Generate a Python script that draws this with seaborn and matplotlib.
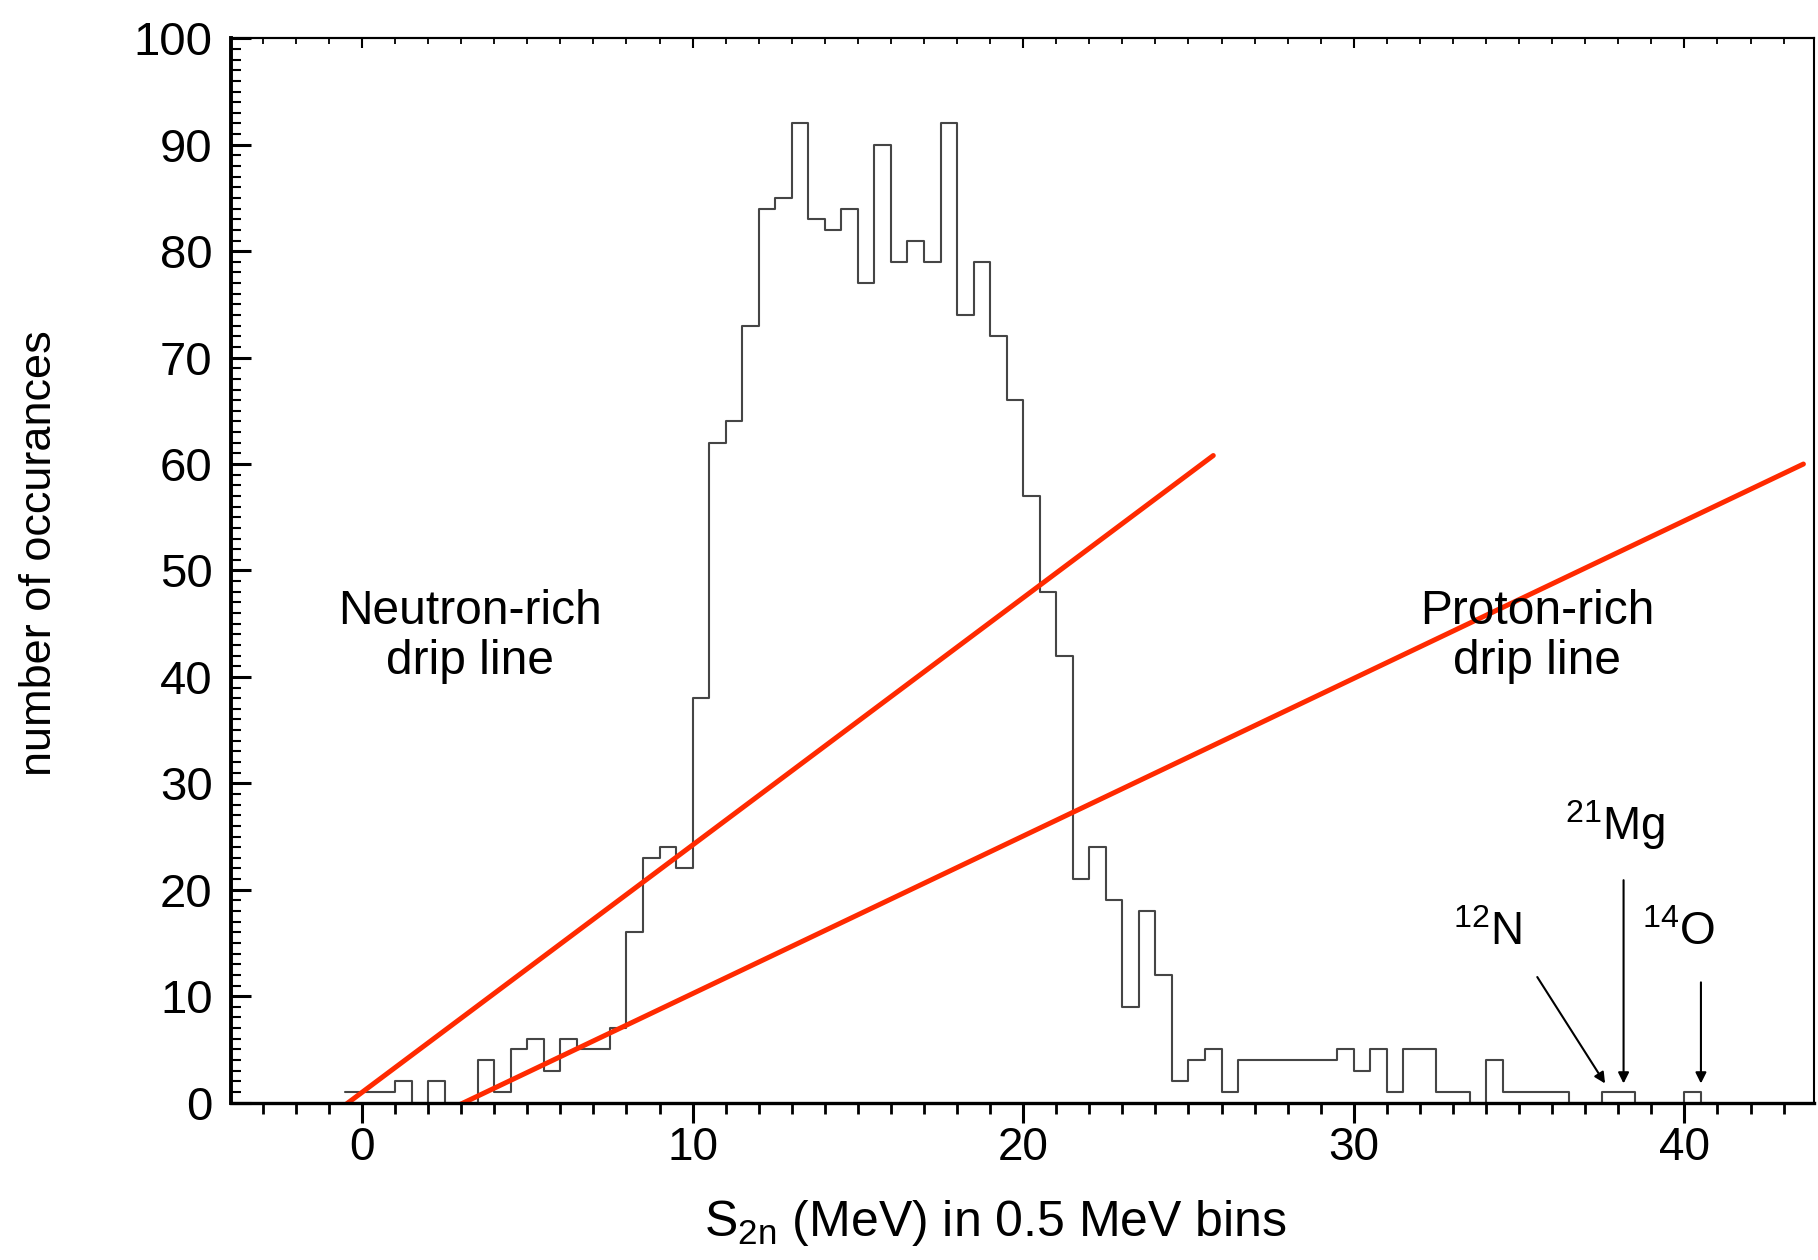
import numpy as np
import pandas as pd
import matplotlib
matplotlib.use("Agg")
import matplotlib.pyplot as plt
import seaborn as sns
from matplotlib.ticker import MultipleLocator, FixedLocator

# ---------------- data ----------------
bin_start = -0.5   # MeV, lower edge of first bin
bin_width = 0.5    # MeV
counts = [1, 1, 1, 2, 0, 2, 0, 0,          # -0.5 .. 3.0
          4, 1, 5, 6, 3, 6, 5, 5,          # 3.5 .. 7.0
          7, 16, 23, 24, 22, 38, 62, 64,   # 7.5 .. 11.0
          73, 84, 85, 92, 83, 82, 84, 77,  # 11.5 .. 15.0
          90, 79, 81, 79, 92, 74, 79, 72,  # 15.5 .. 19.0
          66, 57, 48, 42, 21, 24, 19, 9,   # 19.5 .. 23.0
          18, 12, 2, 4, 5, 1, 4, 4,        # 23.5 .. 27.0
          4, 4, 4, 4, 5, 3, 5, 1,          # 27.5 .. 31.0
          5, 5, 1, 1, 0, 4, 1, 1,          # 31.5 .. 35.0
          1, 1, 0, 0, 1, 1, 0, 0,          # 35.5 .. 39.0
          0, 1, 0]                         # 39.5 .. 40.5

neutron_line_x = [-0.5, 25.75]
neutron_line_y = [-0.2, 60.8]
proton_line_x = [2.95, 43.6]
proton_line_y = [-0.2, 60.0]

x_ticks = [0, 10, 20, 30, 40]
y_ticks = [0, 10, 20, 30, 40, 50, 60, 70, 80, 90, 100]

label_texts = ["Neutron-rich\ndrip line", "Proton-rich\ndrip line"]
label_x = [3.26, 35.54]
label_y = [43.8, 43.8]

nuclide_names = [r"$\mathregular{^{12}N}$", r"$\mathregular{^{21}Mg}$", r"$\mathregular{^{14}O}$"]
nuclide_text_x = [34.04, 37.89, 39.83]
nuclide_text_y = [14.8, 24.7, 14.8]
arrow_tail_x = [35.55, 38.16, 40.5]
arrow_tail_y = [11.8, 20.9, 11.3]
arrow_head_x = [37.6, 38.16, 40.5]
arrow_head_y = [1.8, 1.8, 1.8]

# ---------------- style ----------------
sns.set_theme(style="white")
plt.rcParams["font.family"] = ["Liberation Sans", "DejaVu Sans"]
plt.rcParams["mathtext.fontset"] = "custom"
plt.rcParams["mathtext.rm"] = "Liberation Sans"
plt.rcParams["mathtext.it"] = "Liberation Sans"
plt.rcParams["axes.edgecolor"] = "black"
plt.rcParams["xtick.color"] = "black"
plt.rcParams["ytick.color"] = "black"
plt.rcParams["text.color"] = "black"
plt.rcParams["axes.labelcolor"] = "black"

fig, ax = plt.subplots(figsize=(18.18, 12.6), dpi=100)
fig.subplots_adjust(left=0.1269, right=0.9978, top=0.9696, bottom=0.1249)

n = len(counts)
centers = bin_start + bin_width * (np.arange(n) + 0.5)
df = pd.DataFrame({"S2n": centers, "count": counts})
sns.histplot(data=df, x="S2n", weights="count", binwidth=bin_width,
             binrange=(bin_start, bin_start + n * bin_width), element="step",
             fill=False, color="#454545", linewidth=1.5, ax=ax)

red = "#ff2a00"
sns.lineplot(x=neutron_line_x, y=neutron_line_y, color=red, linewidth=3.6,
             sort=False, estimator=None, ax=ax)
sns.lineplot(x=proton_line_x, y=proton_line_y, color=red, linewidth=3.6,
             sort=False, estimator=None, ax=ax)

for t, x, y in zip(label_texts, label_x, label_y):
    ax.text(x, y, t, ha="center", va="center", fontsize=34.5, linespacing=1.15)

for name, tx, ty in zip(nuclide_names, nuclide_text_x, nuclide_text_y):
    ax.text(tx, ty, name, ha="center", va="baseline", fontsize=33)

for x0, y0, x1, y1 in zip(arrow_tail_x, arrow_tail_y, arrow_head_x, arrow_head_y):
    ax.annotate("", xy=(x1, y1), xytext=(x0, y0),
                arrowprops=dict(arrowstyle="-|>", color="black", lw=1.5,
                                mutation_scale=16, shrinkA=0, shrinkB=0))

ax.set_xlim(-3.97, 43.92)
ax.set_ylim(0, 100)

ax.xaxis.set_major_locator(FixedLocator(x_ticks))
ax.xaxis.set_minor_locator(MultipleLocator(1))
ax.yaxis.set_major_locator(FixedLocator(y_ticks))
ax.yaxis.set_minor_locator(MultipleLocator(1))

ax.tick_params(axis="x", which="major", direction="out", length=14.4, width=2.2,
               labelsize=33, pad=2.5, bottom=True, top=False)
ax.tick_params(axis="x", which="minor", direction="out", length=8, width=2,
               bottom=True, top=False)
ax.tick_params(axis="y", which="major", direction="in", length=14.4, width=2.2,
               labelsize=34, pad=13, left=True, right=False)
ax.tick_params(axis="y", which="minor", direction="in", length=7.5, width=1.5,
               left=True, right=False)

secax = ax.secondary_xaxis("top")
secax.xaxis.set_major_locator(FixedLocator(x_ticks))
secax.xaxis.set_minor_locator(MultipleLocator(1))
secax.tick_params(axis="x", which="major", direction="in", length=7, width=1.5,
                  labeltop=False)
secax.tick_params(axis="x", which="minor", direction="in", length=4.5, width=1.3,
                  labeltop=False)
secax.spines["top"].set_linewidth(1.5)

for side, lw in [("left", 2.8), ("bottom", 2.4), ("top", 1.5), ("right", 1.5)]:
    ax.spines[side].set_linewidth(lw)
    ax.spines[side].set_color("black")

ax.set_xlabel(r"$\mathregular{S_{2n}}$ (MeV) in 0.5 MeV bins", fontsize=36)
ax.xaxis.label.set_verticalalignment("center")
ax.xaxis.set_label_coords(0.483, -0.113)
ax.set_ylabel("number of occurances", fontsize=32.5)
ax.yaxis.label.set_verticalalignment("center")
ax.yaxis.set_label_coords(-0.121, 0.516)

fig.savefig("out.png", dpi=100, facecolor="white")
